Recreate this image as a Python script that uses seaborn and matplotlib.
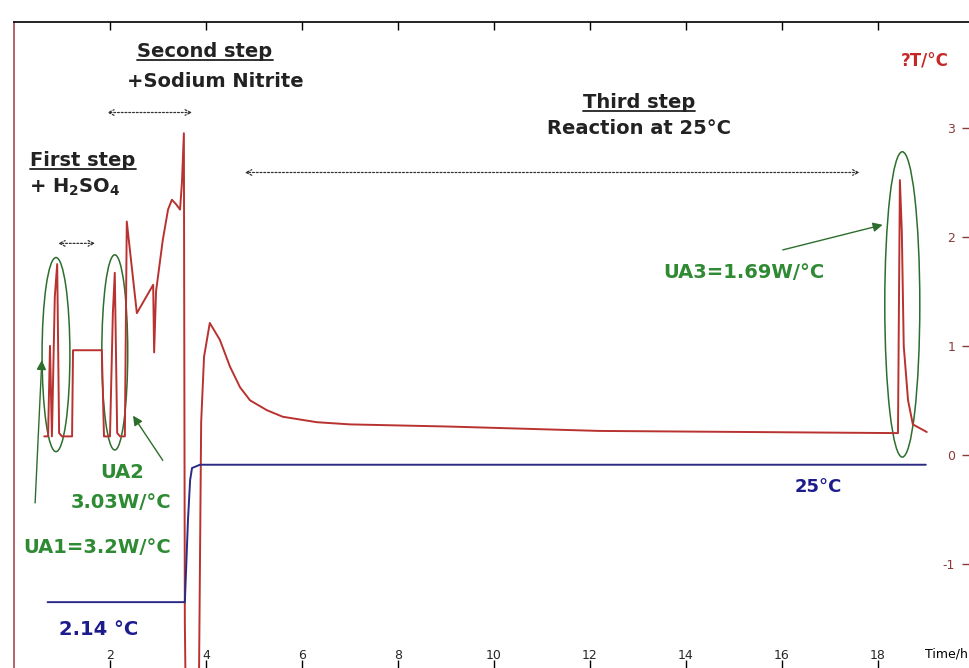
import numpy as np
import pandas as pd
import matplotlib
matplotlib.use("Agg")
import matplotlib.pyplot as plt
import seaborn as sns
from matplotlib.patches import Ellipse
from matplotlib.lines import Line2D
from matplotlib.transforms import IdentityTransform

# delta T trace (hours, degC)
dt_time = [0.63, 0.71, 0.75, 0.79, 0.85, 0.90, 0.94, 1.00, 1.21, 1.23, 1.83, 1.875,
           2.00, 2.06, 2.10, 2.15, 2.21, 2.31, 2.35, 2.46, 2.56, 2.90, 2.92, 2.96,
           3.10, 3.21, 3.29, 3.375, 3.46, 3.50, 3.54, 3.56, 3.58, 3.85, 3.90, 3.96, 4.08,
           4.29, 4.50, 4.71, 4.92, 5.27, 5.60, 6.31, 7.00, 8.04, 9.08, 12.2, 15.33,
           18.42, 18.46, 18.50, 18.54, 18.63, 18.73, 19.02]
dt_value = [0.17, 0.17, 1.00, 0.17, 1.45, 1.75, 0.20, 0.17, 0.17, 0.96, 0.96, 0.17,
            0.17, 1.30, 1.67, 0.20, 0.17, 0.17, 2.14, 1.70, 1.30, 1.56, 0.94, 1.50,
            1.97, 2.25, 2.34, 2.30, 2.25, 2.50, 2.95, -1.54, -2.30, -2.30, 0.30, 0.90, 1.21,
            1.055, 0.81, 0.62, 0.50, 0.41, 0.35, 0.30, 0.28, 0.27, 0.26, 0.22, 0.21,
            0.20, 2.52, 2.05, 1.00, 0.50, 0.28, 0.21]

# reactor temperature trace, drawn on the same scale
temp_time = [0.70, 3.56, 3.625, 3.67, 3.71, 3.875, 19.0]
temp_value = [-1.35, -1.35, -0.60, -0.23, -0.12, -0.09, -0.09]

# ellipses around the calibration peaks: centre x, centre y, width, height
ell_x = [0.875, 2.10, 18.51]
ell_y = [0.92, 0.94, 1.38]
ell_w = [0.58, 0.54, 0.73]
ell_h = [1.78, 1.79, 2.80]

x_ticks = [2, 4, 6, 8, 10, 12, 14, 16, 18]
y_ticks = [-1, 0, 1, 2, 3]

red = "#b83230"
blue = "#2b2b86"
green_txt = "#2f8a34"
green_ell = "#2d6e2d"
navy_txt = "#1c1c8c"

sns.set_style("white")
plt.rcParams["font.family"] = ["DejaVu Sans"]

fig = plt.figure(figsize=(9.69, 6.68), dpi=100)
ax = fig.add_axes([14 / 969, 0.0, 955 / 969, 646 / 668])

df_dt = pd.DataFrame({"time": dt_time, "dT": dt_value})
df_temp = pd.DataFrame({"time": temp_time, "T": temp_value})
sns.lineplot(data=df_dt, x="time", y="dT", sort=False, estimator=None,
             color=red, lw=1.4, ax=ax)
sns.lineplot(data=df_temp, x="time", y="T", sort=False, estimator=None,
             color=blue, lw=1.4, ax=ax)

for cx, cy, w, h in zip(ell_x, ell_y, ell_w, ell_h):
    ax.add_patch(Ellipse((cx, cy), w, h, fill=False, ec=green_ell, lw=1.1))

ax.set_xlim(0, 19.9)
ax.set_ylim(-1.954, 3.97)
ax.set_xlabel("")
ax.set_ylabel("")

ax.set_xticks(x_ticks)
ax.set_xticklabels([str(t) for t in x_ticks])
ax.tick_params(axis="x", top=True, bottom=True, direction="in", length=6,
               width=1, color="black", labelsize=9, pad=-14)
ax.tick_params(axis="x", which="major", labeltop=False)

ax.set_yticks(y_ticks)
ax.set_yticklabels([str(t) for t in y_ticks])
ax.yaxis.tick_right()
ax.tick_params(axis="y", right=True, left=False, direction="in", length=5,
               width=1, color="#8b3a3a", labelsize=9, labelcolor="#8b3a3a", pad=-10)
for lbl in ax.get_yticklabels():
    lbl.set_horizontalalignment("right")

ax.spines["top"].set_color("black")
ax.spines["top"].set_linewidth(1.2)
ax.spines["left"].set_color("#a84a4a")
ax.spines["left"].set_linewidth(1.2)
ax.spines["right"].set_visible(False)
ax.spines["bottom"].set_visible(False)

bold = dict(fontweight="bold", ha="center", va="center")
t_second = ax.text(3.98, 3.70, "Second step", fontsize=14, color="#222222", **bold)
ax.text(4.20, 3.42, "+Sodium Nitrite", fontsize=14, color="#222222", **bold)
t_first = ax.text(1.44, 2.70, "First step", fontsize=14, color="#222222", **bold)
ax.text(1.27, 2.45, r"+ H$_\mathbf{2}$SO$_\mathbf{4}$", fontsize=14, color="#222222", **bold)
t_third = ax.text(13.02, 3.23, "Third step", fontsize=14, color="#222222", **bold)
ax.text(13.02, 2.99, "Reaction at 25°C", fontsize=14, color="#222222", **bold)

ax.text(2.25, -0.16, "UA2", fontsize=14, color=green_txt, **bold)
ax.text(2.23, -0.44, "3.03W/°C", fontsize=14, color=green_txt, **bold)
ax.text(1.73, -0.85, "UA1=3.2W/°C", fontsize=14, color=green_txt, **bold)
ax.text(15.21, 1.67, "UA3=1.69W/°C", fontsize=14, color=green_txt, **bold)
ax.text(1.77, -1.60, "2.14 °C", fontsize=14, color=navy_txt, **bold)
ax.text(16.75, -0.29, "25°C", fontsize=13, color=navy_txt, **bold)
ax.text(18.98, 3.61, "?T/°C", fontsize=12, color="#c62828", **bold)
ax.text(19.88, -1.83, "Time/h", fontsize=9, color="black", ha="right", va="center",
        clip_on=False)

# dotted span arrows
for x0, x1, y in [(1.94, 3.71, 3.14), (4.81, 17.62, 2.59), (0.92, 1.69, 1.94)]:
    ax.annotate("", xy=(x0, y), xytext=(x1, y),
                arrowprops=dict(arrowstyle="<->", ls=(0, (1.5, 1.5)), lw=0.9,
                                color="#333333", shrinkA=0, shrinkB=0))

# green pointer arrows
for tail, head in [((0.44, -0.44), (0.58, 0.87)),
                   ((3.10, -0.05), (2.48, 0.36)),
                   ((16.02, 1.88), (18.10, 2.11))]:
    ax.annotate("", xy=head, xytext=tail,
                arrowprops=dict(arrowstyle="-|>", lw=1.0, color=green_ell,
                                mutation_scale=14, shrinkA=0, shrinkB=0))

# underline the step headings
fig.canvas.draw()
renderer = fig.canvas.get_renderer()
for t in (t_second, t_first, t_third):
    bb = t.get_window_extent(renderer)
    fig.add_artist(Line2D([bb.x0, bb.x1], [bb.y0 + 1, bb.y0 + 1], lw=1.3,
                          color="#222222", transform=IdentityTransform()))

fig.savefig("out.png", dpi=100)
